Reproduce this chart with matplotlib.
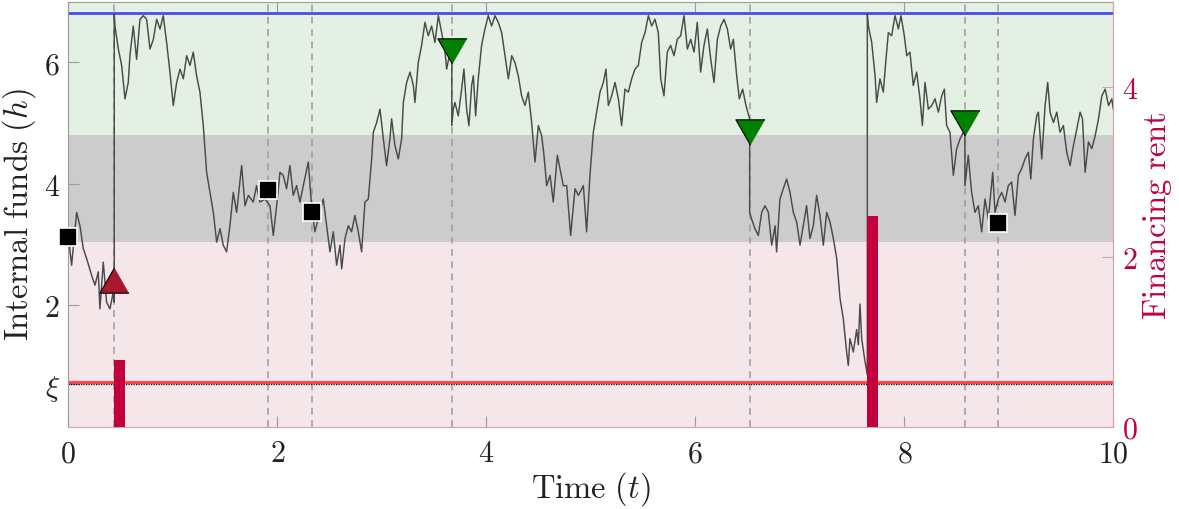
import matplotlib
matplotlib.use("Agg")
import matplotlib.pyplot as plt
from matplotlib.ticker import FixedLocator, FuncFormatter

plt.rcParams["mathtext.fontset"] = "cm"
plt.rcParams["font.family"] = ["DejaVu Serif"]

# ---------------------------------------------------------------- data
# Internal funds path h(t); repeated times mark instantaneous jumps
t_path = [
    0.000, 0.032, 0.080, 0.112, 0.144, 0.176, 0.224, 0.256, 0.287, 0.303,
    0.335, 0.367, 0.399, 0.431, 0.440,
    0.440, 0.447, 0.479, 0.511, 0.543, 0.574, 0.590, 0.622, 0.654, 0.686,
    0.718, 0.750, 0.782, 0.814, 0.846, 0.878, 0.909, 0.941, 0.973, 1.005,
    1.037, 1.069, 1.101, 1.133, 1.165, 1.196, 1.228, 1.260, 1.292, 1.324,
    1.356, 1.388, 1.420, 1.452, 1.483, 1.515, 1.547, 1.579, 1.611, 1.659,
    1.691, 1.723, 1.770, 1.802, 1.834, 1.882, 1.930, 1.962, 1.994, 2.026,
    2.057, 2.089, 2.121, 2.153, 2.185, 2.217, 2.249, 2.297, 2.328, 2.360,
    2.392, 2.440, 2.472, 2.504, 2.536, 2.568, 2.600, 2.616, 2.648, 2.680,
    2.711, 2.743, 2.775, 2.807, 2.839, 2.871, 2.903, 2.919, 2.951, 2.983,
    3.015, 3.046, 3.078, 3.094, 3.126, 3.158, 3.190, 3.206, 3.238, 3.270,
    3.302, 3.317, 3.349, 3.381, 3.413, 3.445, 3.477, 3.509, 3.541, 3.573,
    3.605, 3.621, 3.652, 3.670,
    3.670, 3.684, 3.700, 3.732, 3.764, 3.786, 3.812, 3.834, 3.860, 3.876,
    3.898, 3.923, 3.955, 3.987, 4.019, 4.051, 4.083, 4.115, 4.147, 4.179,
    4.211, 4.243, 4.274, 4.306, 4.338, 4.370, 4.402, 4.434, 4.466, 4.498,
    4.530, 4.552, 4.578, 4.610, 4.641, 4.680, 4.705, 4.737, 4.769, 4.807,
    4.849, 4.881, 4.929, 4.960, 4.992, 5.024, 5.056, 5.088, 5.120, 5.145,
    5.168, 5.200, 5.232, 5.264, 5.295, 5.327, 5.359, 5.391, 5.423, 5.455,
    5.487, 5.519, 5.551, 5.583, 5.614, 5.646, 5.669, 5.700, 5.732, 5.764,
    5.796, 5.828, 5.860, 5.892, 5.924, 5.956, 5.988, 6.019, 6.051, 6.083,
    6.115, 6.147, 6.179, 6.211, 6.243, 6.275, 6.307, 6.338, 6.364, 6.396,
    6.421, 6.453, 6.485, 6.520,
    6.520, 6.539, 6.571, 6.603, 6.635, 6.667, 6.699, 6.731, 6.763, 6.778,
    6.810, 6.842, 6.874, 6.906, 6.938, 6.970, 7.002, 7.033, 7.065, 7.097,
    7.129, 7.161, 7.193, 7.225, 7.257, 7.289, 7.321, 7.353, 7.385, 7.416,
    7.448, 7.464, 7.480, 7.512, 7.544, 7.560, 7.576, 7.592, 7.620, 7.646,
    7.646, 7.656, 7.688, 7.720, 7.735, 7.767, 7.799, 7.822, 7.847, 7.879,
    7.911, 7.943, 7.968, 8.000, 8.023, 8.054, 8.086, 8.118, 8.150, 8.173,
    8.198, 8.230, 8.262, 8.294, 8.326, 8.358, 8.383, 8.405, 8.437, 8.469,
    8.501, 8.533, 8.565, 8.580,
    8.580, 8.612, 8.644, 8.676, 8.708, 8.740, 8.772, 8.804, 8.846, 8.868,
    8.900, 8.932, 8.964, 8.995, 9.027, 9.059, 9.091, 9.123, 9.155, 9.187,
    9.210, 9.235, 9.267, 9.283, 9.315, 9.347, 9.372, 9.395, 9.427, 9.459,
    9.490, 9.522, 9.554, 9.586, 9.618, 9.650, 9.682, 9.705, 9.730, 9.762,
    9.794, 9.826, 9.858, 9.890, 9.922, 9.954, 9.986, 10.000,
]
h_path = [
    3.15, 2.66, 3.53, 3.31, 2.93, 2.77, 2.49, 2.33, 2.55, 1.94,
    2.71, 2.05, 1.94, 2.22, 2.05,
    6.80, 6.60, 6.22, 5.95, 5.40, 5.67, 6.11, 6.60, 6.05, 6.71,
    6.77, 6.71, 6.22, 6.38, 6.71, 6.55, 6.77, 6.33, 5.84, 5.29,
    5.67, 5.89, 5.73, 6.11, 5.95, 6.17, 5.78, 5.51, 4.96, 4.19,
    3.86, 3.53, 3.04, 3.26, 2.99, 2.88, 3.31, 3.86, 3.53, 4.30,
    3.64, 3.81, 3.70, 3.97, 3.70, 3.75, 3.64, 3.15, 3.64, 4.19,
    4.14, 3.92, 4.30, 3.81, 3.97, 3.70, 3.97, 4.36, 3.64, 3.21,
    3.42, 3.75, 3.31, 2.88, 3.21, 2.66, 2.99, 2.60, 3.10, 3.31,
    3.21, 3.48, 3.21, 2.88, 3.70, 3.75, 4.41, 4.85, 5.01, 5.23,
    4.74, 4.30, 4.74, 5.07, 4.63, 4.41, 4.74, 5.34, 5.67, 5.84,
    5.62, 5.34, 6.00, 6.28, 6.66, 6.44, 6.60, 6.33, 6.77, 6.49,
    6.17, 5.89, 6.17, 6.00,
    4.96, 5.23, 5.34, 5.12, 5.56, 5.89, 5.23, 4.96, 5.62, 5.78,
    5.12, 5.73, 6.28, 6.55, 6.77, 6.60, 6.77, 6.66, 6.49, 6.11,
    5.73, 6.11, 6.00, 5.78, 5.45, 5.29, 5.51, 5.01, 4.36, 4.96,
    4.79, 4.47, 3.97, 4.14, 3.70, 4.47, 4.25, 3.97, 3.97, 3.15,
    3.92, 3.81, 3.97, 3.21, 4.14, 4.85, 5.18, 5.51, 5.67, 5.89,
    5.29, 5.45, 5.67, 5.40, 4.96, 5.56, 5.51, 5.73, 5.89, 5.95,
    6.33, 6.49, 6.77, 6.60, 6.71, 6.49, 5.73, 5.45, 6.17, 6.28,
    6.11, 6.38, 6.44, 6.77, 6.22, 6.38, 6.17, 6.66, 5.84, 6.28,
    6.55, 6.06, 5.67, 6.38, 6.60, 6.71, 6.55, 6.22, 6.38, 5.78,
    5.40, 5.56, 5.29, 5.07,
    3.53, 3.42, 3.26, 3.15, 3.53, 3.64, 3.53, 2.99, 3.31, 2.88,
    3.75, 3.92, 4.08, 3.86, 3.53, 3.37, 2.99, 3.31, 3.64, 3.10,
    3.31, 3.81, 3.48, 2.99, 3.53, 3.37, 3.10, 2.77, 2.11, 1.78,
    1.23, 1.01, 1.45, 1.23, 1.60, 1.35, 2.02, 1.45, 1.12, 0.85,
    6.80, 6.60, 6.33, 5.78, 5.34, 5.73, 5.51, 6.00, 6.49, 6.44,
    6.77, 6.55, 6.77, 6.44, 6.11, 6.17, 5.62, 5.84, 5.40, 4.96,
    5.67, 5.23, 5.29, 5.40, 5.18, 5.45, 5.56, 4.96, 4.85, 4.14,
    4.58, 4.74, 4.85, 4.80,
    3.97, 4.47, 3.86, 3.53, 3.64, 3.21, 3.75, 3.42, 4.19, 3.53,
    3.75, 3.86, 3.70, 3.97, 4.03, 3.48, 4.14, 4.25, 4.41, 4.52,
    4.08, 4.74, 5.12, 5.18, 4.41, 5.29, 5.67, 5.18, 5.01, 5.18,
    4.85, 4.96, 4.52, 4.30, 4.63, 4.90, 5.18, 5.07, 4.19, 4.69,
    4.58, 4.79, 5.07, 5.45, 5.56, 5.29, 5.40, 5.23,
]

# Regime thresholds on internal funds
xi = 0.71
xi_band = 0.74
h_low = 3.04
h_high = 4.81
h_cap = 6.81

# Decision events
event_t = [0.0, 0.44, 1.915, 2.33, 3.67, 6.52, 8.58, 8.90]
square_t = [0.0, 1.915, 2.33, 8.90]
square_h = [3.12, 3.90, 3.53, 3.36]
raise_t = [0.44]
raise_h = [2.41]
payout_t = [3.67, 6.52, 8.58]
payout_h = [6.19, 4.85, 5.00]

# Financing rent paid at refinancing dates
rent_t = [0.44, 7.646]
rent_v = [0.79, 2.48]

# ---------------------------------------------------------------- style
crimson = "#C2003D"
spine_grey = "#9A9A9A"
spine_pink = "#D9A0B0"
fs_tick = 21.5
fs_label = 23.5

fig = plt.figure(figsize=(11.79, 5.10), dpi=100)
ax = fig.add_axes([0.0579, 0.1614, 0.8864, 0.8333])

ax.axhspan(0, h_low, color="#F5E6EA", lw=0, zorder=0)
ax.axhspan(h_low, h_high, color="#CCCCCC", lw=0, zorder=0)
ax.axhspan(h_high, 7.0, color="#E4F0E4", lw=0, zorder=0)

for te in event_t:
    ax.axvline(te, color="#9C9C9C", lw=1.1, ls=(0, (4.5, 3.5)), zorder=1)

ax.axhline(h_cap, color="#4A4AF0", lw=2.0, zorder=2)
ax.axhline(xi_band, color="#FF4A4A", lw=2.2, zorder=2)
ax.axhline(xi, color="black", lw=0.9, ls=(0, (1, 1)), zorder=2)

ax.plot(t_path, h_path, color="#4A4A4A", lw=1.05, zorder=3)

tri_up = [(0, 1), (-1.15, -1), (1.15, -1)]
tri_dn = [(0, -1), (-1.15, 1), (1.15, 1)]
ax.plot(square_t, square_h, ls="none", marker="s", ms=13, mfc="black",
        mec="white", mew=1.2, zorder=6, clip_on=False)
ax.plot(raise_t, raise_h, ls="none", marker=tri_up, ms=21, mfc="#A8182F",
        mec="black", mew=0.8, zorder=6)
ax.plot(payout_t, payout_h, ls="none", marker=tri_dn, ms=21, mfc="#008000",
        mec="black", mew=0.8, zorder=6)

ax.set_xlim(0, 10)
ax.set_ylim(0, 7)

fmt_int = FuncFormatter(lambda v, p: r"$%d$" % round(v))
ax.xaxis.set_major_locator(FixedLocator([0, 2, 4, 6, 8, 10]))
ax.xaxis.set_major_formatter(fmt_int)
ax.yaxis.set_major_locator(FixedLocator([xi, 2, 4, 6]))
ax.yaxis.set_major_formatter(FuncFormatter(
    lambda v, p: r"$\xi$" if abs(v - xi) < 1e-6 else r"$%d$" % round(v)))

ax.tick_params(axis="x", direction="in", length=8, width=0.8,
               labelsize=fs_tick, pad=9, top=True, color=spine_grey,
               labelcolor="#222222")
ax.tick_params(axis="y", direction="in", length=8, width=0.8,
               labelsize=fs_tick, pad=6, color=spine_grey, labelcolor="#222222")

for side in ("left", "top"):
    ax.spines[side].set_color(spine_grey)
ax.spines["bottom"].set_color(spine_pink)
ax.spines["right"].set_visible(False)

ax.set_xlabel(r"$\mathrm{Time}\ (t)$", fontsize=fs_label, color="#222222",
              labelpad=1)
ax.set_ylabel(r"$\mathrm{Internal\ funds}\ (h)$", fontsize=fs_label,
              color="#222222", labelpad=4)

ax2 = ax.twinx()
ax2.bar(rent_t, rent_v, width=0.1, align="edge", color=crimson, lw=0, zorder=2)
ax2.set_ylim(0, 5)
ax2.yaxis.set_major_locator(FixedLocator([0, 2, 4]))
ax2.yaxis.set_major_formatter(fmt_int)
ax2.tick_params(axis="y", direction="in", length=8, width=0.8,
                labelsize=fs_tick, pad=6, color=spine_pink, labelcolor=crimson)
for side in ("left", "top", "bottom"):
    ax2.spines[side].set_visible(False)
ax2.spines["right"].set_color(spine_pink)
ax2.set_ylabel(r"$\mathrm{Financing\ rent}$", fontsize=fs_label, color=crimson,
               labelpad=2)

fig.savefig("out.png", dpi=100)
